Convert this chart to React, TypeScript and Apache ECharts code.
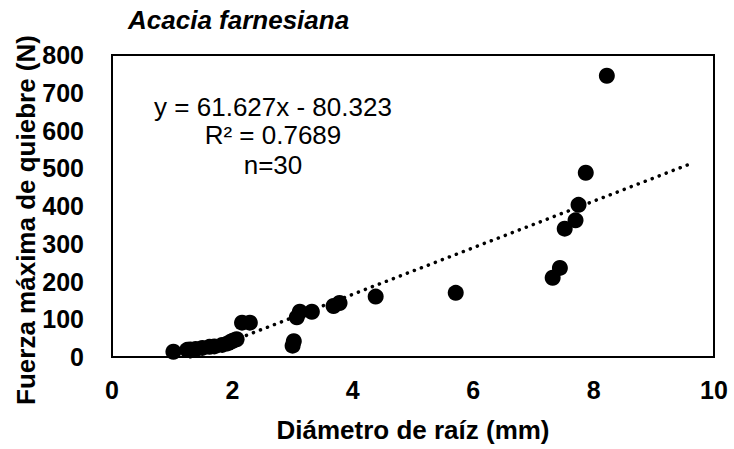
import React, { useEffect, useRef } from "react";
import * as echarts from "echarts";

const diameters = [
  1.02, 1.25, 1.3, 1.39, 1.5, 1.62, 1.7, 1.83, 1.92, 1.98, 2.02, 2.07, 2.16, 2.29,
  3.0, 3.02, 3.07, 3.12, 3.32, 3.68, 3.78, 4.38, 5.71,
  7.32, 7.44, 7.52, 7.7, 7.75, 7.87, 8.22,
];
const forces = [
  14, 19, 20, 21, 24, 27, 28, 32, 36, 41, 44, 47, 91, 91,
  30, 42, 105, 120, 120, 135, 143, 160, 170,
  210, 236, 340, 362, 403, 488, 745,
];
const xTicks = [0, 2, 4, 6, 8, 10];
const yTicks = [0, 100, 200, 300, 400, 500, 600, 700, 800];
const slope = 61.627;
const intercept = -80.323;
const trendRange = [80.323 / 61.627, 9.65];

const FONT = "'Liberation Sans', Arial, sans-serif";

export default function App() {
  const ref = useRef<HTMLDivElement>(null);
  useEffect(() => {
    document.body.style.margin = "0";
    if (!ref.current) return;
    const chart = echarts.init(ref.current, null, { renderer: "svg" });
    const points = diameters.map((d, i) => [d, forces[i]]);
    const trend = trendRange.map((x) => [x, slope * x + intercept]);
    chart.setOption({
      animation: false,
      backgroundColor: "#ffffff",
      grid: {
        left: 112,
        top: 55,
        right: 20,
        bottom: 92,
        show: true,
        borderColor: "#000000",
        borderWidth: 2,
        backgroundColor: "transparent",
      },
      xAxis: {
        type: "value",
        min: xTicks[0],
        max: xTicks[xTicks.length - 1],
        interval: 2,
        axisLine: { show: false },
        axisTick: { show: false },
        splitLine: { show: false },
        axisLabel: {
          color: "#000",
          fontFamily: FONT,
          fontWeight: "bold",
          fontSize: 25,
          margin: 20,
        },
      },
      yAxis: {
        type: "value",
        min: yTicks[0],
        max: yTicks[yTicks.length - 1],
        interval: 100,
        axisLine: { show: false },
        axisTick: { show: false },
        splitLine: { show: false },
        axisLabel: {
          color: "#000",
          fontFamily: FONT,
          fontWeight: "bold",
          fontSize: 25,
          margin: 28,
        },
      },
      graphic: [
        {
          type: "text",
          x: 128,
          y: 20,
          style: {
            text: "Acacia farnesiana",
            font: `italic bold 26px ${FONT}`,
            fill: "#000",
            align: "left",
            verticalAlign: "middle",
          },
        },
        {
          type: "text",
          x: 413,
          y: 430,
          style: {
            text: "Diámetro de raíz (mm)",
            font: `bold 26px ${FONT}`,
            fill: "#000",
            align: "center",
            verticalAlign: "middle",
          },
        },
        {
          type: "text",
          x: 26,
          y: 220,
          rotation: Math.PI / 2,
          style: {
            text: "Fuerza máxima de quiebre (N)",
            font: `bold 26px ${FONT}`,
            fill: "#000",
            align: "center",
            verticalAlign: "middle",
          },
        },
        {
          type: "text",
          x: 273,
          y: 107,
          style: {
            text: "y = 61.627x - 80.323",
            font: `26px ${FONT}`,
            fill: "#000",
            align: "center",
            verticalAlign: "middle",
          },
        },
        {
          type: "text",
          x: 273,
          y: 135,
          style: {
            text: "R² = 0.7689",
            font: `26px ${FONT}`,
            fill: "#000",
            align: "center",
            verticalAlign: "middle",
          },
        },
        {
          type: "text",
          x: 273,
          y: 165,
          style: {
            text: "n=30",
            font: `26px ${FONT}`,
            fill: "#000",
            align: "center",
            verticalAlign: "middle",
          },
        },
      ],
      series: [
        {
          type: "scatter",
          data: points,
          symbol: "circle",
          symbolSize: 16,
          itemStyle: { color: "#000000", opacity: 1 },
          z: 2,
        },
        {
          type: "line",
          data: trend,
          symbol: "none",
          lineStyle: {
            color: "#000000",
            width: 3.5,
            type: [0.1, 7.4],
            cap: "round",
          },
          z: 3,
        },
      ],
    });
    return () => chart.dispose();
  }, []);
  return <div ref={ref} style={{ width: 734, height: 449 }} />;
}
